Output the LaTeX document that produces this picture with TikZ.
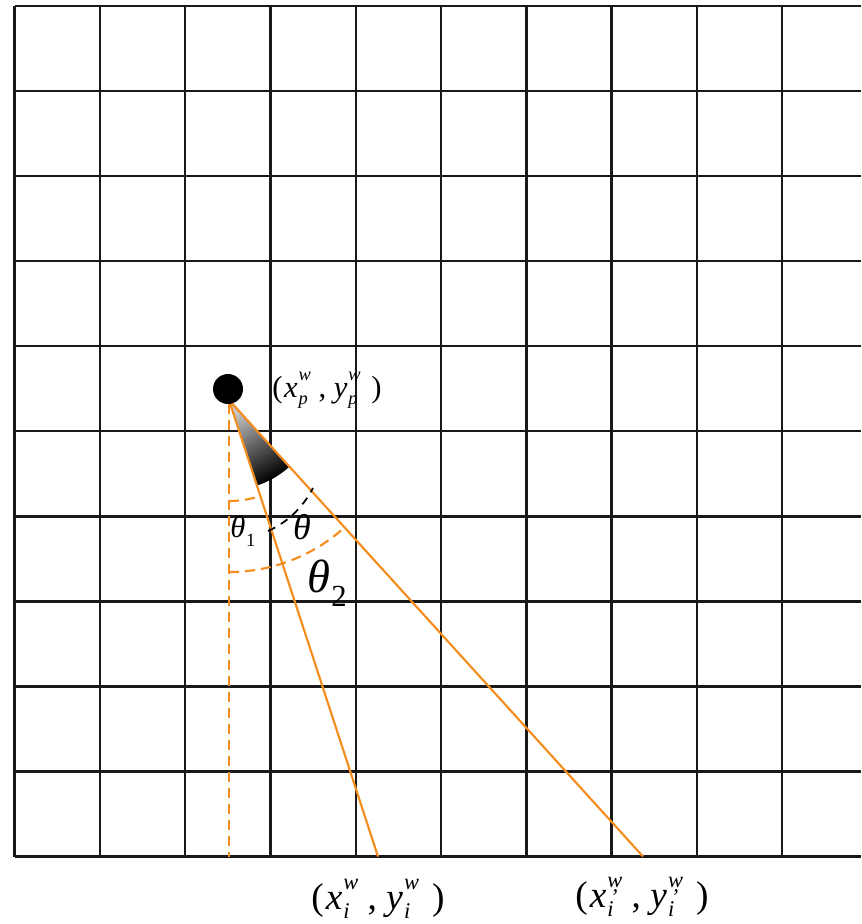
\documentclass[tikz,border=0pt]{standalone}
\usepackage{fontspec}
\setmainfont{Liberation Serif}
\usetikzlibrary{calc}
\definecolor{org}{RGB}{245,140,30}
\makeatletter
\newcommand\sst[2]{{\edef\ssz{\strip@pt\dimexpr0.6\dimexpr\f@size pt\relax\relax}%
  \fontsize{\ssz}{\ssz}\selectfont\itshape
  \setbox0\hbox{#1}\setbox2\hbox{#2}%
  \dimen2=\wd2
  \ifdim\wd0>\wd2 \dimen0=\wd0 \else \dimen0=\wd2 \fi
  \kern0.05em\rlap{\raisebox{0.92em}{\box0}}\raisebox{-0.4em}{\box2}%
  \hskip-\dimen2\hskip\dimen0}}
\makeatother
\newcommand\ptlabel[2]{(\kern0.05em\textit{x}\sst{#1}{#2}\hspace{0.25em},\hspace{0.25em}\textit{y}\sst{#1}{#2}\hspace{0.35em})}
\tikzset{
  gridline/.style={line width=1.8pt, black!90},
  rayline/.style={line width=1.6pt, org},
  orgdash/.style={line width=1.6pt, org, dash pattern=on 7.5pt off 4.5pt},
  blkdash/.style={line width=1.3pt, black, dash pattern=on 6pt off 5pt},
  lbl/.style={inner sep=0pt, text=black},
}
\begin{document}
\begin{tikzpicture}[x=0.75pt, y=-0.75pt]
\useasboundingbox (0,0) rectangle (861,924);
% grid
\foreach \k in {0,...,9}{
  \pgfmathsetmacro\gx{14.5+85.3*\k}
  \draw[gridline] (\gx,6) -- (\gx,856.5);
}
\foreach \k in {0,...,10}{
  \pgfmathsetmacro\gy{6+85.05*\k}
  \draw[gridline] (14.5,\gy) -- (861,\gy);
}
% key points
\coordinate (A) at (229,400);
\coordinate (B1) at (378,856.5);
\coordinate (B2) at (643,856.5);
\coordinate (V1) at (229,404);
\coordinate (V2) at (229,856.5);
% dashed vertical and angle arcs
\draw[orgdash] (V1) -- (V2);
\draw[orgdash] plot[domain=90:71.9, samples=20] ({229+101*cos(\x)},{400+101*sin(\x)});
\draw[orgdash] plot[domain=90:47.8, samples=40] ({229+172*cos(\x)},{400+172*sin(\x)});
% cone
\shade[shading=axis, top color=black!22, bottom color=black, middle color=black!62, shading angle=30]
  (A) -- plot[domain=47.8:71.9, samples=20] ({229+90*cos(\x)},{400+90*sin(\x)}) -- cycle;
% rays
\draw[rayline] (A) -- (B1);
\draw[rayline] (A) -- (B2);
% theta arc
\draw[blkdash] (268,531) .. controls (286,523) and (302,509) .. (313,488);
% dot
\fill[black] (228,389) circle[radius=15];
% labels
\node[lbl, font=\fontsize{23}{26}\selectfont] (lp) at (327,390) {\ptlabel{w}{p}};
\node[lbl, font=\fontsize{23}{26}\selectfont] (t1) at (243,531) {\textit{θ}\kern0.02em\raisebox{-0.3em}{\fontsize{14}{14}\selectfont 1}};
\node[lbl, font=\fontsize{27}{30}\selectfont] (t) at (302,527) {\textit{θ}};
\node[lbl, font=\fontsize{35}{38}\selectfont] (t2) at (327,583) {\textit{θ}\kern0.02em\raisebox{-0.3em}{\fontsize{23}{23}\selectfont 2}};
\node[lbl, font=\fontsize{28}{30}\selectfont] (li) at (378,899) {\ptlabel{w}{i}};
\node[lbl, font=\fontsize{28}{30}\selectfont] (lj) at (642,897) {\ptlabel{w}{\rlap{\raisebox{0.55em}{\kern0.12em'}}i}};
\end{tikzpicture}
\end{document}
